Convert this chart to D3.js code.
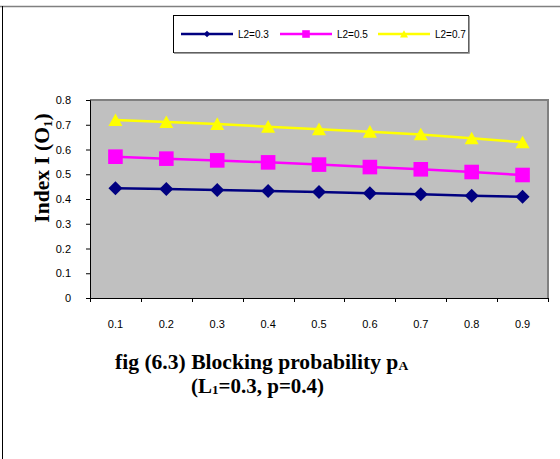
<!DOCTYPE html>
<html><head><meta charset="utf-8">
<script src="https://cdn.jsdelivr.net/npm/d3@7"></script>
<style>html,body{margin:0;padding:0;background:#fff;}svg{display:block;}</style>
</head><body>
<svg id="chart" width="560" height="459"></svg>
<script>
const categories = ["0.1","0.2","0.3","0.4","0.5","0.6","0.7","0.8","0.9"];
const seriesNames = ["L2=0.3","L2=0.5","L2=0.7"];
const valuesL03 = [0.443,0.440,0.436,0.432,0.428,0.423,0.419,0.413,0.409];
const valuesL05 = [0.571,0.563,0.556,0.548,0.539,0.529,0.520,0.509,0.497];
const valuesL07 = [0.719,0.711,0.703,0.692,0.682,0.672,0.661,0.645,0.629];
const yTicks = [0,0.1,0.2,0.3,0.4,0.5,0.6,0.7,0.8];
const colors = ["#000080","#FF00FF","#FFFF00"];
const shapes = ["diamond","square","triangle"];

const series = [valuesL03, valuesL05, valuesL07].map((v,i)=>({name:seriesNames[i], values:v, color:colors[i], shape:shapes[i]}));

function marker(shape, s){
  if(shape==="diamond") return `M0,${-s}L${s},0L0,${s}L${-s},0Z`;
  if(shape==="square") return `M${-s},${-s}H${s}V${s}H${-s}Z`;
  return `M0,${-s*0.95}L${s},${s*0.85}H${-s}Z`;
}

const svg = d3.select("#chart");
const L=90, R=548, T=100, B=298;

// page frame
svg.append("line").attr("x1",0).attr("x2",560).attr("y1",6.5).attr("y2",6.5).attr("stroke","#808080").attr("stroke-width",1.5);
svg.append("line").attr("x1",2.5).attr("x2",2.5).attr("y1",6).attr("y2",459).attr("stroke","#000").attr("stroke-width",1);

const x = d3.scaleBand().domain(categories).range([L,R]);
const y = d3.scaleLinear().domain([0,0.8]).range([B,T]);

// plot area
svg.append("rect").attr("x",L).attr("y",T).attr("width",R-L).attr("height",B-T).attr("fill","#C0C0C0");
svg.append("path").attr("d",`M${L},${T}H${R}V${B}`).attr("fill","none").attr("stroke","#808080").attr("stroke-width",2);

// axes
const yAxis = svg.append("g").attr("transform",`translate(${L},0)`)
  .call(d3.axisLeft(y).tickValues(yTicks).tickFormat(d=>d===0?"0":d3.format(".1f")(d)).tickSize(4).tickPadding(15));
yAxis.select(".domain").attr("stroke","#000");
yAxis.selectAll("text").attr("font-family","Liberation Sans, Arial, sans-serif").attr("font-size",11).attr("fill","#000");

const xAxisG = svg.append("g").attr("transform",`translate(0,${B})`);
xAxisG.append("line").attr("x1",L-4).attr("x2",R).attr("y1",0.5).attr("y2",0.5).attr("stroke","#000");
const bounds = categories.map(c=>x(c)).concat([x(categories[categories.length-1])+x.bandwidth()]);
xAxisG.selectAll("line.tk").data(bounds).join("line").attr("class","tk")
  .attr("x1",d=>Math.round(d)+0.5).attr("x2",d=>Math.round(d)+0.5).attr("y1",0).attr("y2",4).attr("stroke","#000");
xAxisG.selectAll("text").data(categories).join("text")
  .attr("x",d=>x(d)+x.bandwidth()/2).attr("y",30).attr("text-anchor","middle")
  .attr("font-family","Liberation Sans, Arial, sans-serif").attr("font-size",11).attr("fill","#000").text(d=>d);

// lines & markers
const line = d3.line().x((d,i)=>x(categories[i])+x.bandwidth()/2).y(d=>y(d));
const mSizes = [7,7.3,7];
series.forEach((s,si)=>{
  svg.append("path").datum(s.values).attr("d",line).attr("fill","none").attr("stroke",s.color).attr("stroke-width",2.5);
  svg.selectAll(null).data(s.values).join("path")
    .attr("transform",(d,i)=>`translate(${x(categories[i])+x.bandwidth()/2},${y(d)})`)
    .attr("d",marker(s.shape,mSizes[si])).attr("fill",s.color);
});

// legend
const lg = svg.append("g");
lg.append("rect").attr("x",173.5).attr("y",15.5).attr("width",295).attr("height",37).attr("fill","#fff").attr("stroke","#000").attr("stroke-width",1);
lg.append("path").attr("d","M469,16V53H174").attr("fill","none").attr("stroke","#808080").attr("stroke-width",1.5);
const legX = [181,280,378];
series.forEach((s,i)=>{
  const g = lg.append("g").attr("transform",`translate(${legX[i]},34)`);
  g.append("line").attr("x1",0).attr("x2",52).attr("stroke",s.color).attr("stroke-width",2.5);
  g.append("path").attr("transform","translate(26,0)").attr("d",marker(s.shape,[3.3,3.8,4][i])).attr("fill",s.color);
  g.append("text").attr("x",57).attr("y",3.5).attr("font-family","Liberation Sans, Arial, sans-serif").attr("font-size",10).attr("fill","#000").text(s.name);
});

const serif = "Liberation Serif, Times New Roman, serif";
// y title
const yt = svg.append("text").attr("transform","translate(49,168) rotate(-90)").attr("text-anchor","middle")
  .attr("font-family",serif).attr("font-weight","bold").attr("font-size",21.5).attr("fill","#000");
yt.append("tspan").text("Index I (O");
yt.append("tspan").attr("font-size",13).attr("dy",3).text("1");
yt.append("tspan").attr("dy",-3).text(")");

// caption
const t1 = svg.append("text").attr("x",115).attr("y",369)
  .attr("font-family",serif).attr("font-weight","bold").attr("font-size",21.6).attr("fill","#000");
t1.append("tspan").text("fig (6.3) Blocking probability p");
t1.append("tspan").attr("font-size",13.5).attr("dy",1).text("A");

const t2 = svg.append("text").attr("x",191).attr("y",393)
  .attr("font-family",serif).attr("font-weight","bold").attr("font-size",21).attr("fill","#000");
t2.append("tspan").text("(L");
t2.append("tspan").attr("font-size",13).attr("dy",1).text("1");
t2.append("tspan").attr("dy",-1).text("=0.3, p=0.4)");
</script>
</body></html>
